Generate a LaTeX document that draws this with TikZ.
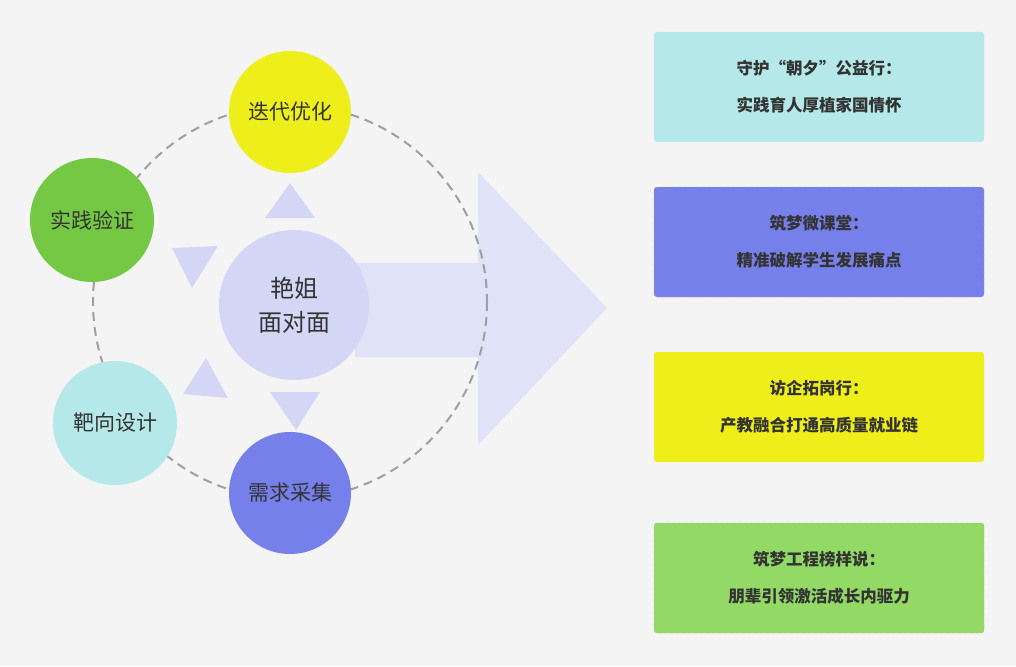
\documentclass[tikz,border=0pt]{standalone}
\usepackage{fontspec}
\setmainfont{Noto Sans CJK SC}
\usetikzlibrary{positioning}
\definecolor{bg}{HTML}{F4F4F4}
\definecolor{hub}{HTML}{D3D6F5}
\definecolor{flow}{HTML}{E0E3F7}
\definecolor{cyellow}{HTML}{EEEE1A}
\definecolor{cgreen}{HTML}{74C843}
\definecolor{ccyan}{HTML}{B5E8E8}
\definecolor{cblue}{HTML}{7680EA}
\definecolor{bgreen}{HTML}{92D966}
\definecolor{ink}{HTML}{333333}
\tikzset{
  stage/.style={circle, minimum size=122pt, inner sep=0pt, text=ink, font=\fontsize{21}{24}\selectfont},
  card/.style={rounded corners=3pt, minimum width=330pt, minimum height=110pt, text=ink, align=center, font=\bfseries\fontsize{16.5}{37}\selectfont},
  tri/.style={fill=hub, draw=none}
}
\begin{document}
\begin{tikzpicture}[x=1pt,y=-1pt]
				\fill[bg] (0,0) rectangle (1016,666);
				\useasboundingbox (0,0) rectangle (1016,666);
				
				\fill[flow] (355,263) -- (478,263) -- (478,172) -- (607,308) -- (478,445) -- (478,357) -- (355,357) -- cycle;
				\draw[gray!75, dash pattern=on 9pt off 6pt, line width=2pt] (290,302) circle (197);
				
				\node[circle, fill=hub, minimum size=150pt, text=ink, align=center, font=\fontsize{24}{34}\selectfont] (hub) at (294,305) {艳姐\\面对面};
				\node[stage, fill=cyellow] (iter) at (290,112) {迭代优化};
				\node[stage, fill=cgreen, minimum size=124pt] (prac) at (92,220) {实践验证};
				\node[stage, fill=ccyan, minimum size=124pt] (targ) at (115,423) {靶向设计};
				\node[stage, fill=cblue] (need) at (290,493) {需求采集};
				
				\fill[tri] (265,218) -- (315,218) -- (290,183) -- cycle;
				\fill[tri] (270,392) -- (320,392) -- (296,430) -- cycle;
				\fill[tri] (172,248) -- (218,246) -- (192,288) -- cycle;
				\fill[tri] (183,394) -- (228,398) -- (206,358) -- cycle;
				
				\node[card, fill=ccyan] (c1) at (819,87) {守护“朝夕”公益行：\\实践育人厚植家国情怀};
				\node[card, fill=cblue, draw=gray!60, dashed] (c2) at (819,242) {筑梦微课堂：\\精准破解学生发展痛点};
				\node[card, fill=cyellow] (c3) at (819,407) {访企拓岗行：\\产教融合打通高质量就业链};
				\node[card, fill=bgreen, draw=gray!60, dashed] (c4) at (819,578) {筑梦工程榜样说：\\朋辈引领激活成长内驱力};
			\end{tikzpicture}
\end{document}
